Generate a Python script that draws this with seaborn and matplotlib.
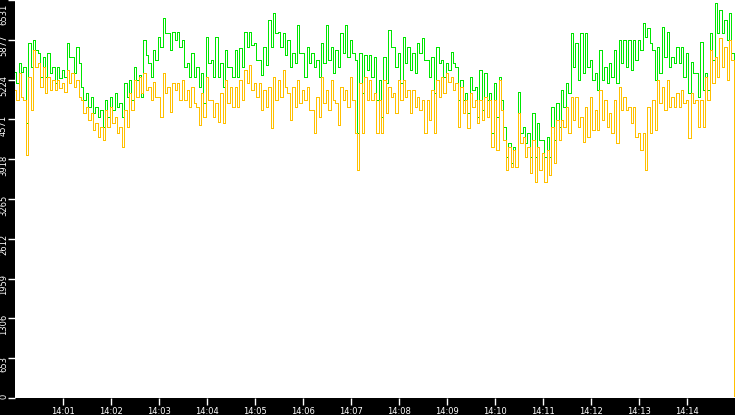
import numpy as np
import pandas as pd
import matplotlib
matplotlib.use("Agg")
import matplotlib.pyplot as plt
import seaborn as sns
from matplotlib.transforms import ScaledTranslation

# seconds after 14:00:00 (one reading every 3 s, plus the final reading)
seconds = list(range(0, 900, 3)) + [900]

green_vals = [
    5355, 5164, 5492, 5355, 5437, 4507, 5820, 5437, 5875, 5710,
    5656, 5273, 5601, 5273, 5656, 5328, 5437, 5164, 5437, 5245,
    5382, 5273, 5820, 5601, 5601, 5328, 5765, 5492, 5109, 4890,
    4999, 4781, 4945, 4671, 4781, 4617, 4726, 4452, 4890, 4617,
    4945, 4726, 4999, 4781, 4835, 4617, 5164, 4945, 5218, 4890,
    5437, 5218, 5300, 4945, 5875, 5628, 5492, 5273, 5710, 5546,
    5929, 5765, 6230, 5984, 5984, 5710, 6011, 5875, 6011, 5765,
    5875, 5437, 5492, 5273, 5656, 5273, 5437, 5109, 5328, 4835,
    5929, 5492, 5546, 5273, 5929, 5273, 5492, 5109, 5710, 5437,
    5437, 5273, 5710, 5273, 5738, 5437, 6011, 5765, 6011, 5792,
    5820, 5546, 5546, 5300, 5765, 5464, 6203, 5765, 6312, 5984,
    6011, 5765, 5984, 5628, 5875, 5437, 5656, 5492, 6121, 5656,
    5656, 5273, 5765, 5492, 5656, 5437, 5546, 5273, 5820, 5492,
    6121, 5546, 5765, 5328, 5710, 5437, 5984, 5656, 6121, 5601,
    5875, 5656, 5546, 4343, 5656, 4999, 5628, 5382, 5628, 5273,
    5601, 4890, 5218, 4617, 5601, 5164, 6039, 5765, 5765, 5437,
    5656, 5164, 5929, 5492, 5765, 5382, 5656, 5328, 5820, 5656,
    5902, 5546, 5546, 5273, 5601, 4999, 5765, 5492, 5546, 5273,
    5492, 5382, 5683, 5492, 5437, 4890, 5218, 4890, 4999, 4671,
    5273, 5054, 5109, 4617, 5382, 4726, 5328, 4890, 4999, 4343,
    5164, 4617, 5273, 4890, 4452, 3960, 4179, 3851, 4124, 3796,
    5027, 4343, 4452, 4179, 4343, 3960, 4671, 3960, 4507, 4234,
    4234, 3960, 4288, 3960, 4781, 4234, 4835, 4452, 5054, 4781,
    5164, 4999, 5984, 5437, 5820, 5218, 5984, 5328, 5984, 5437,
    5546, 5218, 5328, 5054, 5710, 5218, 5437, 5164, 5492, 5273,
    5710, 5164, 5875, 5492, 5875, 5437, 5875, 5382, 5875, 5546,
    5875, 5710, 6148, 5929, 6066, 5820, 5710, 5218, 5765, 5328,
    6093, 5601, 6011, 5437, 5601, 5492, 5765, 5492, 5765, 5273,
    5656, 4999, 5519, 5328, 5328, 4945, 5847, 5054, 5328, 5054,
    5984, 5546, 6476, 5984, 6367, 5984, 6203, 5875, 6312, 5656,
    2950,
]

orange_vals = [
    5054, 4890, 5328, 4945, 4890, 3987, 5273, 4726, 5710, 5437,
    5492, 5109, 5437, 4999, 5273, 5054, 5218, 5054, 5218, 5081,
    5164, 5027, 5382, 5164, 5328, 5109, 5218, 4945, 4890, 4671,
    4781, 4562, 4671, 4398, 4507, 4288, 4452, 4234, 4726, 4452,
    4781, 4507, 4617, 4343, 4452, 4124, 4726, 4452, 4999, 4726,
    5218, 4945, 5273, 4999, 5328, 5054, 5109, 4890, 5191, 4945,
    4945, 4617, 5328, 4999, 5109, 4699, 5164, 5054, 5164, 4890,
    5218, 4890, 5054, 4781, 5109, 4835, 4781, 4480, 4999, 4617,
    5273, 4890, 4890, 4617, 4835, 4535, 4999, 4507, 5218, 4835,
    5109, 4781, 5109, 4781, 5218, 4890, 5382, 5164, 5464, 5054,
    5164, 4945, 5164, 4726, 5054, 4781, 5109, 4425, 5273, 4890,
    5218, 4945, 5382, 5109, 4999, 4562, 5109, 4781, 5218, 4835,
    5054, 4890, 5109, 4726, 4726, 4343, 4945, 4617, 5273, 4835,
    5054, 4726, 5218, 4890, 4835, 4480, 5109, 4890, 5054, 4781,
    5273, 4890, 4343, 3741, 5164, 4343, 5273, 4890, 5218, 4890,
    4999, 4343, 4890, 4343, 5218, 4671, 5109, 4945, 4999, 4671,
    5218, 4890, 5218, 4945, 5054, 4671, 5054, 4781, 4945, 4726,
    4890, 4343, 4890, 4562, 5054, 4343, 5218, 4945, 5273, 4999,
    5328, 5191, 5273, 5054, 5164, 4452, 5109, 4671, 4890, 4425,
    4999, 4781, 4890, 4507, 4890, 4562, 4945, 4617, 4890, 4124,
    4890, 4070, 5218, 4726, 4234, 3741, 4124, 3796, 4070, 3796,
    4671, 4179, 4288, 3960, 4124, 3687, 4234, 3550, 4124, 3741,
    4015, 3550, 4070, 3659, 4452, 3851, 4562, 4234, 4562, 4452,
    4781, 4343, 4945, 4562, 4945, 4452, 4617, 4206, 4781, 4288,
    4945, 4398, 4726, 4398, 5054, 4562, 4890, 4452, 4671, 4343,
    4890, 4179, 5109, 4726, 4945, 4726, 4781, 4507, 4781, 4288,
    4343, 4070, 4343, 3741, 4781, 4343, 4890, 4398, 5218, 4835,
    5109, 4726, 5218, 4781, 4945, 4781, 4999, 4781, 5054, 4835,
    4890, 4261, 4999, 4835, 4890, 4452, 4890, 4452, 5273, 4890,
    5710, 5164, 5601, 5273, 5902, 5437, 5765, 5218, 5875, 5546,
    33,
]

x_tick_labels = ["14:01", "14:02", "14:03", "14:04", "14:05", "14:06", "14:07",
                 "14:08", "14:09", "14:10", "14:11", "14:12", "14:13", "14:14"]
y_tick_labels = ["0", "653", "1306", "1959", "2612", "3265", "3918",
                 "4571", "5224", "5877", "6531"]

df = pd.DataFrame({"t": seconds, "green": green_vals, "orange": orange_vals})

fig = plt.figure(figsize=(7.35, 4.15), dpi=100, facecolor="black")
ax = fig.add_axes([15 / 735, 17 / 415, 720 / 735, 398 / 415])
ax.set_facecolor("white")

sns.lineplot(data=df, x="t", y="green", ax=ax, color="#00E600", linewidth=0.7,
             drawstyle="steps-mid", estimator=None, sort=False, antialiased=False)
sns.lineplot(data=df, x="t", y="orange", ax=ax, color="#FFC000", linewidth=0.7,
             drawstyle="steps-mid", estimator=None, sort=False, antialiased=False)

ax.set_xlim(0, 900)
ax.set_ylim(0, 6531)
for s in ax.spines.values():
    s.set_visible(False)
ax.set_xlabel("")
ax.set_ylabel("")

ax.set_xticks(np.arange(60, 900, 60))
ax.set_xticklabels(x_tick_labels)
ax.set_yticks(np.linspace(0, 6531, 11))
ax.set_yticklabels(y_tick_labels, rotation=90, va="center")
ax.tick_params(axis="x", colors="white", length=5, width=1, pad=1.5, labelsize=6)
ax.tick_params(axis="y", colors="white", length=5, width=1, pad=0, labelsize=6)

for lab in ax.get_yticklabels():
    txt = lab.get_text()
    if txt == "0":
        dy = 1.5
    elif txt == "6531":
        dy = -14
    else:
        dy = -6
    lab.set_transform(lab.get_transform() + ScaledTranslation(0, dy / 100, fig.dpi_scale_trans))

fig.savefig("out.png", dpi=100, facecolor="black")
